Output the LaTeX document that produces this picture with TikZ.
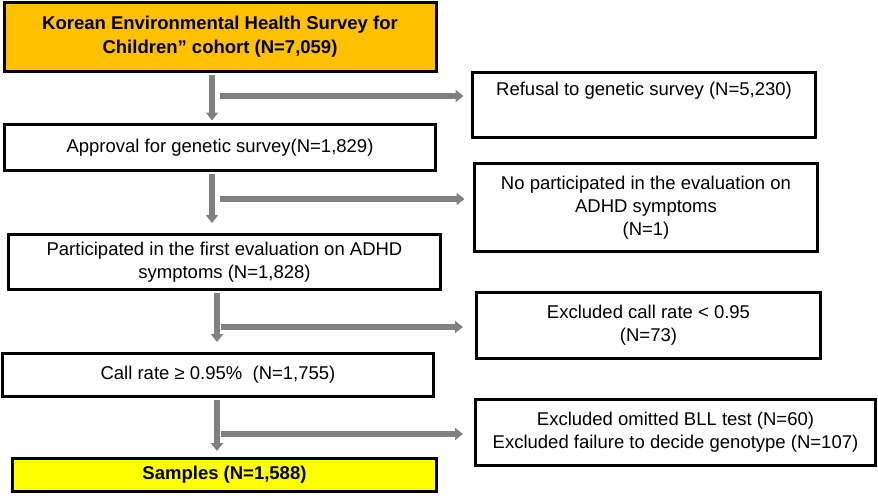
\documentclass[tikz,border=0pt]{standalone}
\usepackage{fontspec}
\setmainfont{Liberation Sans}
\usetikzlibrary{arrows.meta,positioning}
\definecolor{cohortorange}{HTML}{FFC000}
\definecolor{sampleyellow}{HTML}{FFFF00}
\definecolor{flowgray}{HTML}{808080}
\tikzset{
  stagebox/.style={draw, line width=3pt, align=center, inner sep=0pt,
    font=\fontsize{18.5}{23}\selectfont},
  flow/.style={draw=flowgray, line width=6pt, shorten <=2pt,
    -{Triangle[length=8pt,width=12pt]}}
}

\begin{document}
\begin{tikzpicture}[x=1pt,y=-1pt]
  \useasboundingbox (0,0) rectangle (878,498);

  % main column
  \node[stagebox, fill=cohortorange, font=\bfseries\fontsize{18.5}{24}\selectfont,
    minimum width=432pt, minimum height=69pt] (cohort) at (220,36.5)
    {Korean Environmental Health Survey for\\Children” cohort (N=7,059)};
  \node[stagebox, minimum width=431pt, minimum height=46pt] (approve) at (220,147.5)
    {Approval for genetic survey(N=1,829)};
  \node[stagebox, minimum width=432pt, minimum height=55pt] (partic) at (224.5,262)
    {Participated in the first evaluation on ADHD\\symptoms (N=1,828)};
  \node[stagebox, minimum width=431pt, minimum height=43pt] (callrate) at (218,375)
    {Call rate ≥ 0.95\%~ (N=1,755)};
  \node[stagebox, fill=sampleyellow, font=\bfseries\fontsize{18.5}{23}\selectfont,
    minimum width=424pt, minimum height=33pt] (samples) at (224.5,475)
    {Samples (N=1,588)};

  % excluded
  \node[stagebox, minimum width=343pt, minimum height=65pt,
    text height=13pt, text depth=32pt] (refuse) at (644,105)
    {Refusal to genetic survey (N=5,230)};
  \node[stagebox, minimum width=343pt, minimum height=88pt] (noadhd) at (646,207.5)
    {No participated in the evaluation on\\ADHD symptoms\\(N=1)};
  \node[stagebox, minimum width=344pt, minimum height=66pt] (callex) at (648.5,325.5)
    {Excluded call rate < 0.95\\(N=73)};
  \node[stagebox, minimum width=400pt, minimum height=66pt] (omit) at (675.5,432.5)
    {Excluded omitted BLL test (N=60)\\Excluded failure to decide genotype (N=107)};

  % arrows
  \coordinate (t1) at (212,0);
  \coordinate (t2) at (217,0);
  \draw[flow, shorten >=2.5pt] (cohort.south -| t1) -- (approve.north -| t1);
  \draw[flow, shorten >=10pt] (approve.south -| t1) -- (partic.north -| t1);
  \draw[flow, shorten >=10pt] (partic.south -| t2) -- (callrate.north -| t2);
  \draw[flow, shorten >=6pt] (callrate.south -| t2) -- (samples.north -| t2);

  \coordinate (b1) at (218,96);
  \coordinate (b2) at (218,199);
  \coordinate (b3) at (219,327);
  \coordinate (b4) at (219,434);
  \draw[flow, shorten >=7.5pt] (b1) -- (b1 -| refuse.west);
  \draw[flow, shorten >=8.5pt] (b2) -- (b2 -| noadhd.west);
  \draw[flow, shorten >=12pt] (b3) -- (b3 -| callex.west);
  \draw[flow, shorten >=11pt] (b4) -- (b4 -| omit.west);
\end{tikzpicture}
\end{document}
